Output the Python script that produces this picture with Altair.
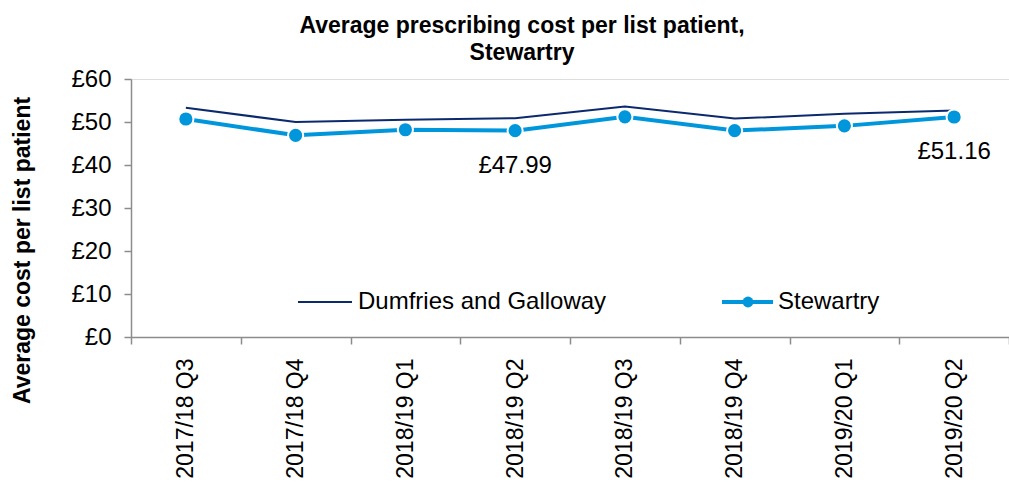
import altair as alt
import pandas as pd
import json

quarters = ["2017/18 Q3", "2017/18 Q4", "2018/19 Q1", "2018/19 Q2",
            "2018/19 Q3", "2018/19 Q4", "2019/20 Q1", "2019/20 Q2"]
dumfries = [53.3, 50.0, 50.5, 50.9, 53.6, 50.8, 51.9, 52.7]
stewartry = [50.7, 46.9, 48.2, 47.99, 51.2, 48.0, 49.1, 51.16]
labelled = ["2018/19 Q2", "2019/20 Q2"]
series_names = ["Dumfries and Galloway", "Stewartry"]
y_ticks = [0, 10, 20, 30, 40, 50, 60]

DG_COL = "#0b2a6e"
ST_COL = "#0096db"
AXIS_COL = "#8c8c8c"
FONT = "Liberation Sans"

df = pd.DataFrame({
    "quarter": quarters * 2,
    "series": [series_names[0]] * len(quarters) + [series_names[1]] * len(quarters),
    "value": dumfries + stewartry,
})

x_enc = alt.X(
    "quarter:N", sort=quarters,
    scale=alt.Scale(type="band", paddingInner=0, paddingOuter=0),
    axis=alt.Axis(title=None, labelAngle=270, labelAlign="right", labelBaseline="middle",
                  labelFontSize=23, labelPadding=14, labelColor="black", labelFont=FONT,
                  tickBand="extent", tickSize=7, tickColor=AXIS_COL, domainColor=AXIS_COL,
                  domainWidth=1.5, tickWidth=1.5, grid=False),
)
y_enc = alt.Y(
    "value:Q",
    scale=alt.Scale(domain=[0, 60], nice=False),
    axis=alt.Axis(values=y_ticks, labelExpr="'£' + datum.value", labelFontSize=24,
                  labelColor="black", labelFont=FONT, labelPadding=13,
                  tickSize=7, tickColor=AXIS_COL, domainColor=AXIS_COL, domainWidth=1.5,
                  tickWidth=1.5, grid=False,
                  title="Average cost per list patient", titleFontSize=23, titleFontWeight="bold",
                  titleFont=FONT, titleColor="black", titleAngle=270, titleAlign="center",
                  titleBaseline="middle", titleX=-109, titleY=171),
)

base = alt.Chart(df).encode(x=x_enc, y=y_enc)

dg_line = base.transform_filter(alt.datum.series == series_names[0]).mark_line(
    color=DG_COL, strokeWidth=2)
st_line = base.transform_filter(alt.datum.series == series_names[1]).mark_line(
    color=ST_COL, strokeWidth=4)
st_pts = base.transform_filter(alt.datum.series == series_names[1]).mark_circle(
    color=ST_COL, size=230, opacity=1, stroke="white", strokeWidth=2)
label_expr = "datum.series == '%s' && indexof(%s, datum.quarter) >= 0" % (
    series_names[1], json.dumps(labelled).replace('"', "'"))
st_labels = base.transform_filter(label_expr).transform_calculate(
    lab="'£' + format(datum.value, '.2f')"
).mark_text(fontSize=24, dy=35, color="black", font=FONT).encode(text="lab:N")

# manual legend
leg_dg_line = alt.Chart(alt.Data(values=[{"s": series_names[0]}])).mark_rule(
    color=DG_COL, strokeWidth=2).encode(x=alt.value(167), x2=alt.value(221), y=alt.value(223))
leg_dg_text = alt.Chart(alt.Data(values=[{"s": series_names[0]}])).mark_text(
    align="left", baseline="middle", fontSize=24, font=FONT, color="black").encode(
    x=alt.value(227), y=alt.value(223), text="s:N")
leg_st_line = alt.Chart(alt.Data(values=[{"s": series_names[1]}])).mark_rule(
    color=ST_COL, strokeWidth=4).encode(x=alt.value(591), x2=alt.value(642), y=alt.value(223))
leg_st_pt = alt.Chart(alt.Data(values=[{"s": series_names[1]}])).mark_circle(
    color=ST_COL, size=120, opacity=1).encode(x=alt.value(617), y=alt.value(223))
leg_st_text = alt.Chart(alt.Data(values=[{"s": series_names[1]}])).mark_text(
    align="left", baseline="middle", fontSize=24, font=FONT, color="black").encode(
    x=alt.value(647), y=alt.value(223), text="s:N")

chart = alt.layer(
    dg_line, st_line, st_pts, st_labels,
    leg_dg_line, leg_dg_text, leg_st_line, leg_st_pt, leg_st_text,
).properties(
    width=878, height=258,
    autosize=alt.AutoSizeParams(type="none"),
    padding={"left": 131, "top": 79, "right": 0, "bottom": 145},
    title=alt.TitleParams(
        ["Average prescribing cost per list patient,", "Stewartry"],
        fontSize=23, fontWeight="bold", font=FONT, color="black",
        anchor="middle", dx=-48, offset=2, lineHeight=27),
).configure_view(stroke=None).configure(font=FONT, background="white")

chart.save("out.html", embed_options={"renderer": "svg", "actions": False})
